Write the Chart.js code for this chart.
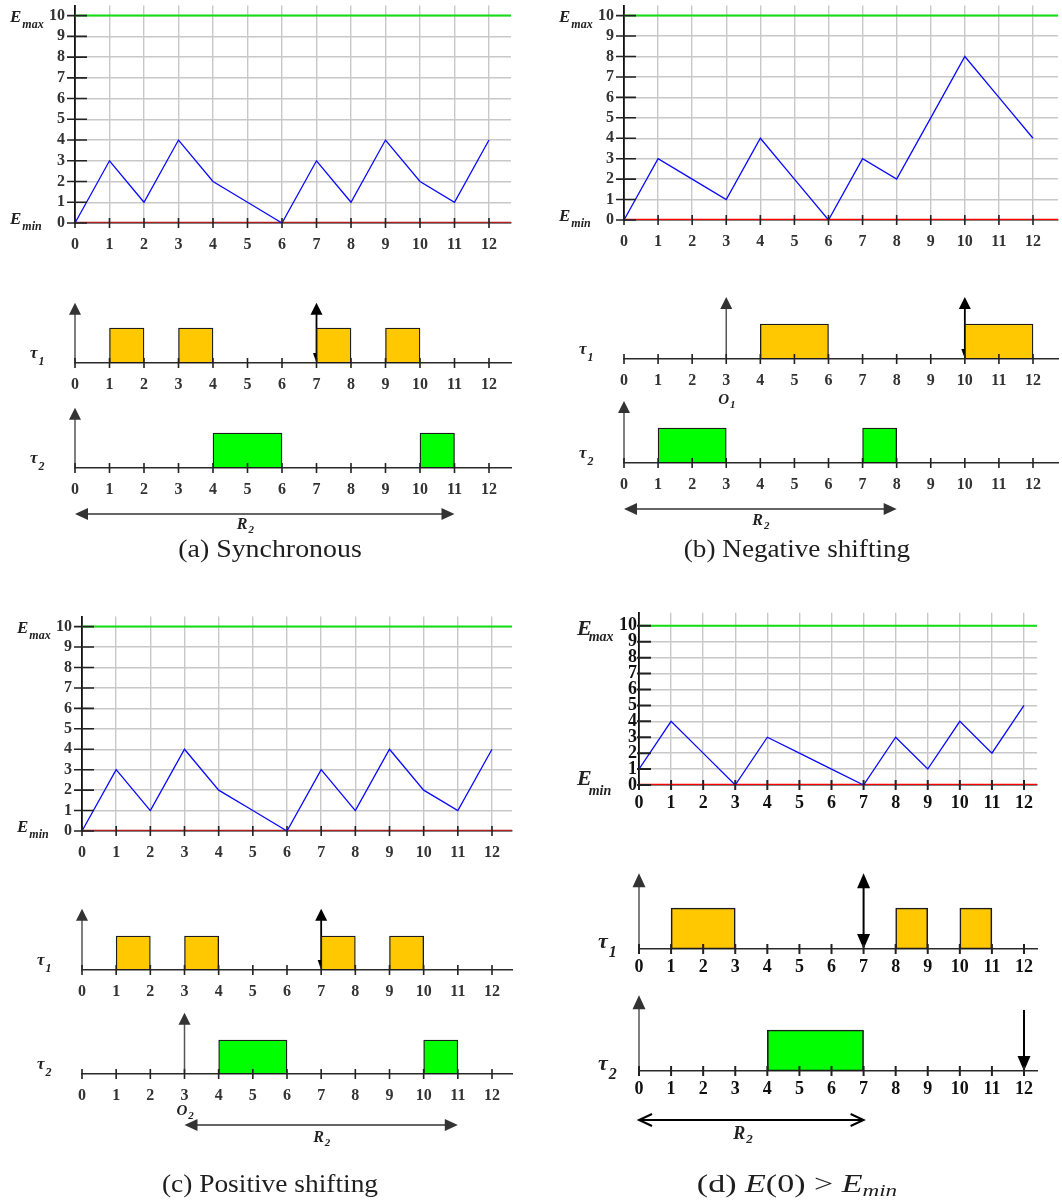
<!DOCTYPE html>
<html lang="en">
<head>
<meta charset="utf-8">
<title>Energy level and task schedules</title>
<script src="https://cdn.jsdelivr.net/npm/chart.js@4.4.1/dist/chart.umd.min.js"></script>
<style>
  html, body { margin: 0; padding: 0; background: #fff; }
  body { position: relative; width: 1062px; height: 1204px; overflow: hidden; }
  .box { position: absolute; }
  .box canvas { display: block; }
  .caption { position: absolute; white-space: nowrap; font-family: 'Liberation Serif', 'Times New Roman', serif;
             font-size: 25px; color: #1e1e1e; line-height: 1; }
  .caption sub { font-size: 17px; vertical-align: -4px; line-height: 0; }
</style>
</head>
<body>
<script>
// --- data ---
const timeSlots = [0, 1, 2, 3, 4, 5, 6, 7, 8, 9, 10, 11, 12];
const energyTicks = [0, 1, 2, 3, 4, 5, 6, 7, 8, 9, 10];
const E_MIN = 0;
const E_MAX = 10;

// energy level at each slot
const energySync = [0, 3, 1, 4, 2, 1, 0, 3, 1, 4, 2, 1, 4];
const energyNeg  = [0, 3, 2, 1, 4, 2, 0, 3, 2, 5, 8, 6, 4];
const energyPos  = [0, 3, 1, 4, 2, 1, 0, 3, 1, 4, 2, 1, 4];
const energyInit = [1, 4, 2, 0, 3, 2, 1, 0, 3, 1, 4, 2, 5];

// execution intervals [start, end] of tau1 / tau2
const tau1Sync = [[1, 2], [3, 4], [7, 8], [9, 10]];
const tau2Sync = [[4, 6], [10, 11]];
const tau1Neg  = [[4, 6], [10, 12]];
const tau2Neg  = [[1, 3], [7, 8]];
const tau1Pos  = [[1, 2], [3, 4], [7, 8], [9, 10]];
const tau2Pos  = [[4, 6], [10, 11]];
const tau1Init = [[1, 3], [8, 9], [10, 11]];
const tau2Init = [[4, 7]];

// release offsets O1, O2
const offsetsSync = [0, 0];
const offsetsNeg  = [3, 0];
const offsetsPos  = [0, 3];
const offsetsInit = [0, 0];

// flagged instants on the tau1 / tau2 lines
const flagsSync = [7, null];
const flagsNeg  = [10, null];
const flagsPos  = [7, null];
const flagsInit = [7, 12];

// response time window R2
const windowSync = [0, 11];
const windowNeg  = [0, 8];
const windowPos  = [3, 11];
const windowInit = [0, 7];

const SERIF = "'Liberation Serif', 'Times New Roman', serif";

// placement of each sub-figure on the page
const panels = [
  { energy: energySync, jobs: [tau1Sync, tau2Sync], offsets: offsetsSync, flags: flagsSync, win: windowSync,
    x0: 75, x12: 489, right: 511, eTop: 6, e10: 16, e0: 223, base: [363, 468], barH: 35, arrowTop: 1.72,
    minColor: '#b41c1c', r2Dy: 46, r2LabelDy: 61, r2LabelDx: -28, offDy: 44,
    caption: '(a) Synchronous', capX: 270, capY: 548, capW: 184 },
  { energy: energyNeg, jobs: [tau1Neg, tau2Neg], offsets: offsetsNeg, flags: flagsNeg, win: windowNeg,
    x0: 624, x12: 1033, right: 1058, eTop: 6, e10: 16, e0: 220, base: [359, 463], barH: 35, arrowTop: 1.77,
    minColor: '#ff0000', r2Dy: 46, r2LabelDy: 62, r2LabelDx: -8, offDy: 45,
    caption: '(b) Negative shifting', capX: 797, capY: 548, capW: 226 },
  { energy: energyPos, jobs: [tau1Pos, tau2Pos], offsets: offsetsPos, flags: flagsPos, win: windowPos,
    x0: 82, x12: 492, right: 512, eTop: 617, e10: 627, e0: 831, base: [970, 1074], barH: 34, arrowTop: 1.8,
    minColor: '#b41c1c', r2Dy: 51, r2LabelDy: 68, r2LabelDx: -8, offDy: 41,
    caption: '(c) Positive shifting', capX: 270, capY: 1183, capW: 216 },
  { energy: energyInit, jobs: [tau1Init, tau2Init], offsets: offsetsInit, flags: flagsInit, win: windowInit,
    x0: 639, x12: 1024, right: 1037, eTop: 613, e10: 626, e0: 785, base: [949, 1071], barH: 41, arrowTop: 1.85,
    minColor: '#ff0000', r2Dy: 49, r2LabelDy: 68, r2LabelDx: -18, offDy: 44, big: true,
    caption: '(d) <i>E</i>(0) &gt; <i>E</i><sub><i>min</i></sub>', capX: 797, capY: 1183, capW: 200 }
];

function fonts(p) {
  return p.big
    ? { tick: 18, tickColor: '#111', e: 22, eSub: 14, tau: 22, tauSub: 16, small: 18, smallSub: 13, lw: 2 }
    : { tick: 16, tickColor: '#333', e: 17, eSub: 12, tau: 17, tauSub: 12, small: 16, smallSub: 11, lw: 1.6 };
}

function makeBox() {
  const wrap = document.createElement('div');
  wrap.className = 'box';
  const canvas = document.createElement('canvas');
  canvas.width = 400;
  canvas.height = 200;
  wrap.appendChild(canvas);
  document.body.appendChild(wrap);
  return { wrap, canvas };
}

// resize the canvas so the chart area lands exactly on the wanted box
function place(chart, wrap, area) {
  for (let i = 0; i < 2; i++) {
    const ca = chart.chartArea;
    const w = area.w + ca.left + (chart.width - ca.right);
    const h = area.h + ca.top + (chart.height - ca.bottom);
    chart.resize(Math.round(w), Math.round(h));
  }
  const ca = chart.chartArea;
  wrap.style.left = (area.x - ca.left) + 'px';
  wrap.style.top = (area.y - ca.top) + 'px';
}

function subText(ctx, x, y, main, sub, size, subSize, subDy, subDx = 1) {
  ctx.textAlign = 'left';
  ctx.textBaseline = 'alphabetic';
  ctx.font = `italic bold ${size}px ${SERIF}`;
  ctx.fillText(main, x, y);
  const w = ctx.measureText(main).width;
  ctx.font = `italic bold ${subSize}px ${SERIF}`;
  ctx.fillText(sub, x + w + subDx, y + subDy);
}

function head(ctx, x, y, dir, len, half, open) {
  const d = { up: [0, -1], down: [0, 1], left: [-1, 0], right: [1, 0] }[dir];
  const bx = x - d[0] * len, by = y - d[1] * len;
  const px = -d[1], py = d[0];
  ctx.beginPath();
  ctx.moveTo(bx + px * half, by + py * half);
  ctx.lineTo(x, y);
  ctx.lineTo(bx - px * half, by - py * half);
  if (open) {
    ctx.stroke();
  } else {
    ctx.closePath();
    ctx.fill();
  }
}

function tickFont(p) {
  const f = fonts(p);
  return { family: SERIF, size: f.tick, weight: 'bold' };
}

// --- energy level chart ---
function energyChart(p) {
  const f = fonts(p);
  const unitX = (p.x12 - p.x0) / 12;
  const unitY = (p.e0 - p.e10) / (E_MAX - E_MIN);
  const xMax = (p.right - p.x0) / unitX;
  const yMax = E_MAX + (p.e10 - p.eTop) / unitY;
  const { wrap, canvas } = makeBox();

  const decor = {
    id: 'energyDecor',
    afterDatasetsDraw(chart) {
      const { ctx, scales: { x, y } } = chart;
      const base = y.getPixelForValue(E_MIN);
      const axis = x.getPixelForValue(0);
      ctx.save();
      ctx.strokeStyle = '#222';
      ctx.lineWidth = f.lw;
      ctx.beginPath();
      timeSlots.forEach(t => {
        const px = x.getPixelForValue(t);
        ctx.moveTo(px, base - 5);
        ctx.lineTo(px, base + 5);
      });
      energyTicks.forEach(v => {
        const py = y.getPixelForValue(v);
        ctx.moveTo(axis - (p.big ? 2 : 8), py);
        ctx.lineTo(axis + 12, py);
      });
      ctx.stroke();
      ctx.fillStyle = '#222';
      const ex = axis - (p.big ? 62 : 65);
      if (p.big) {
        subText(ctx, ex, y.getPixelForValue(E_MAX) + 9, 'E', 'max', f.e, f.eSub, 6, -3);
        subText(ctx, ex, y.getPixelForValue(E_MIN) + 0, 'E', 'min', f.e, f.eSub, 10, -3);
      } else {
        subText(ctx, ex, y.getPixelForValue(E_MAX) + 6, 'E', 'max', f.e, f.eSub, 6);
        subText(ctx, ex, y.getPixelForValue(E_MIN) + 1, 'E', 'min', f.e, f.eSub, 6);
      }
      ctx.restore();
    }
  };

  const chart = new Chart(canvas, {
    type: 'line',
    data: {
      datasets: [
        { data: timeSlots.map((t, i) => ({ x: t, y: p.energy[i] })), borderColor: '#0a0aff', borderWidth: 1.3,
          pointRadius: 0, tension: 0 },
        { data: [{ x: 0, y: E_MAX }, { x: xMax, y: E_MAX }], borderColor: '#12e012', borderWidth: 2, pointRadius: 0 },
        { data: [{ x: 0, y: E_MIN }, { x: xMax, y: E_MIN }], borderColor: p.minColor, borderWidth: 2.5, pointRadius: 0 }
      ]
    },
    options: {
      responsive: false,
      maintainAspectRatio: false,
      animation: false,
      events: [],
      layout: { padding: { top: 4, right: 6, bottom: 0, left: 0 } },
      plugins: { legend: { display: false }, tooltip: { enabled: false } },
      scales: {
        x: {
          type: 'linear', min: 0, max: xMax, offset: false,
          afterBuildTicks: s => { s.ticks = timeSlots.map(v => ({ value: v })); },
          grid: { color: '#c8c8c8', lineWidth: 1.4, drawTicks: false },
          border: { display: true, color: '#222', width: 1.5 },
          ticks: { font: tickFont(p), color: f.tickColor, padding: p.big ? 8 : 12, maxRotation: 0, autoSkip: false },
          afterFit: s => { s.height = 34; }
        },
        y: {
          type: 'linear', min: E_MIN, max: yMax, offset: false,
          afterBuildTicks: s => { s.ticks = energyTicks.map(v => ({ value: v })); },
          grid: { color: '#c8c8c8', lineWidth: 1.4, drawTicks: false },
          border: { display: true, color: '#111', width: 1.8 },
          ticks: { font: tickFont(p), color: f.tickColor, padding: p.big ? 2 : 10, autoSkip: false },
          afterFit: s => { s.width = 80; }
        }
      }
    },
    plugins: [decor]
  });
  place(chart, wrap, { x: p.x0, y: p.eTop, w: p.right - p.x0, h: p.e0 - p.eTop });
}

// --- task line chart (tau1 / tau2) ---
function taskChart(p, n) {
  const f = fonts(p);
  const jobs = p.jobs[n - 1];
  const base = p.base[n - 1];
  const unitX = (p.x12 - p.x0) / 12;
  const xMax = (p.right - p.x0) / unitX;
  const { wrap, canvas } = makeBox();

  const decor = {
    id: 'taskDecor',
    beforeDatasetsDraw(chart) {
      const { ctx, scales: { x, y } } = chart;
      const by = y.getPixelForValue(0);
      const top = y.getPixelForValue(p.arrowTop);
      ctx.save();
      // the time axis arrow starts at the task offset
      const ox = x.getPixelForValue(p.offsets[n - 1]);
      ctx.strokeStyle = '#555';
      ctx.fillStyle = '#333';
      ctx.lineWidth = 1.5;
      ctx.beginPath();
      ctx.moveTo(ox, by);
      ctx.lineTo(ox, top + 10);
      ctx.stroke();
      head(ctx, ox, top, 'up', p.big ? 14 : 12, p.big ? 6.5 : 6, false);

      const flag = p.flags[n - 1];
      if (flag !== null) {
        const fx = x.getPixelForValue(flag);
        ctx.strokeStyle = '#000';
        ctx.fillStyle = '#000';
        ctx.lineWidth = p.big ? 2 : 1.8;
        if (n === 1) {
          ctx.beginPath();
          ctx.moveTo(fx, by - 6);
          ctx.lineTo(fx, top + 10);
          ctx.stroke();
          head(ctx, fx, top, 'up', p.big ? 15 : 12, p.big ? 6.5 : 6, false);
          head(ctx, fx, by, 'down', p.big ? 15 : 10, p.big ? 6.5 : 3.5, false);
        } else {
          const ft = y.getPixelForValue(1.49);
          ctx.beginPath();
          ctx.moveTo(fx, ft);
          ctx.lineTo(fx, by - 8);
          ctx.stroke();
          head(ctx, fx, by, 'down', 15, 6.5, false);
        }
      }
      ctx.restore();
    },
    afterDatasetsDraw(chart) {
      const { ctx, scales: { x, y } } = chart;
      const by = y.getPixelForValue(0);
      const axis = x.getPixelForValue(0);
      ctx.save();
      ctx.strokeStyle = '#222';
      ctx.lineWidth = f.lw;
      ctx.beginPath();
      timeSlots.forEach(t => {
        const px = x.getPixelForValue(t);
        ctx.moveTo(px, by - 5);
        ctx.lineTo(px, by + 5);
      });
      ctx.stroke();

      ctx.fillStyle = '#222';
      subText(ctx, axis - (p.big ? 41 : 45), by + (p.big ? -1 : -5), 'τ', String(n), f.tau, f.tauSub, p.big ? 9 : 7);

      const off = p.offsets[n - 1];
      if (off !== 0) {
        subText(ctx, x.getPixelForValue(off) - 8, by + p.offDy, 'O', String(n), f.small - 1, f.smallSub, 4);
      }

      if (n === 2) {
        const wy = by + p.r2Dy;
        const wa = x.getPixelForValue(p.win[0]);
        const wb = x.getPixelForValue(p.win[1]);
        ctx.strokeStyle = p.big ? '#000' : '#333';
        ctx.fillStyle = '#333';
        ctx.lineWidth = p.big ? 2 : 1.6;
        ctx.beginPath();
        ctx.moveTo(wa + (p.big ? 1 : 8), wy);
        ctx.lineTo(wb - (p.big ? 1 : 8), wy);
        ctx.stroke();
        head(ctx, wa, wy, 'left', 13, 6, !!p.big);
        head(ctx, wb, wy, 'right', 13, 6, !!p.big);
        ctx.fillStyle = '#222';
        subText(ctx, (wa + wb) / 2 + p.r2LabelDx, by + p.r2LabelDy, 'R', '2', f.small, f.smallSub, 4);
      }
      ctx.restore();
    }
  };

  const chart = new Chart(canvas, {
    type: 'bar',
    data: {
      datasets: [{
        data: jobs.map(j => ({ x: j, y: 0.5 })),
        backgroundColor: n === 1 ? '#ffc800' : '#00ff00',
        borderColor: '#1c1c1c',
        borderWidth: p.big ? 1.6 : 1.3,
        borderSkipped: false,
        barPercentage: 1,
        categoryPercentage: 1
      }]
    },
    options: {
      indexAxis: 'y',
      responsive: false,
      maintainAspectRatio: false,
      animation: false,
      events: [],
      layout: { padding: { top: 4, right: 6, bottom: n === 2 ? 64 : 34, left: 0 } },
      plugins: { legend: { display: false }, tooltip: { enabled: false } },
      scales: {
        x: {
          type: 'linear', min: 0, max: xMax, offset: false,
          afterBuildTicks: s => { s.ticks = timeSlots.map(v => ({ value: v })); },
          grid: { display: false, drawTicks: false },
          border: { display: true, color: '#2a2a2a', width: 1.6 },
          ticks: { font: tickFont(p), color: f.tickColor, padding: p.big ? 8 : 12, maxRotation: 0, autoSkip: false },
          afterFit: s => { s.height = 34; }
        },
        y: {
          type: 'linear', min: 0, max: 2, offset: false,
          afterBuildTicks: s => { s.ticks = [{ value: 0 }, { value: 1 }]; },
          grid: { display: false, drawTicks: false, offset: false },
          border: { display: false },
          ticks: { display: false },
          afterFit: s => { s.width = 60; }
        }
      }
    },
    plugins: [decor]
  });
  place(chart, wrap, { x: p.x0, y: base - 2 * p.barH, w: p.right - p.x0, h: 2 * p.barH });
}

function caption(p) {
  const el = document.createElement('div');
  el.className = 'caption';
  el.innerHTML = p.caption;
  document.body.appendChild(el);
  const k = p.capW / el.offsetWidth;
  el.style.left = p.capX + 'px';
  el.style.top = p.capY + 'px';
  el.style.transform = `translate(-50%, -50%) scaleX(${k.toFixed(3)})`;
}

panels.forEach(p => {
  energyChart(p);
  taskChart(p, 1);
  taskChart(p, 2);
  caption(p);
});
</script>
</body>
</html>
